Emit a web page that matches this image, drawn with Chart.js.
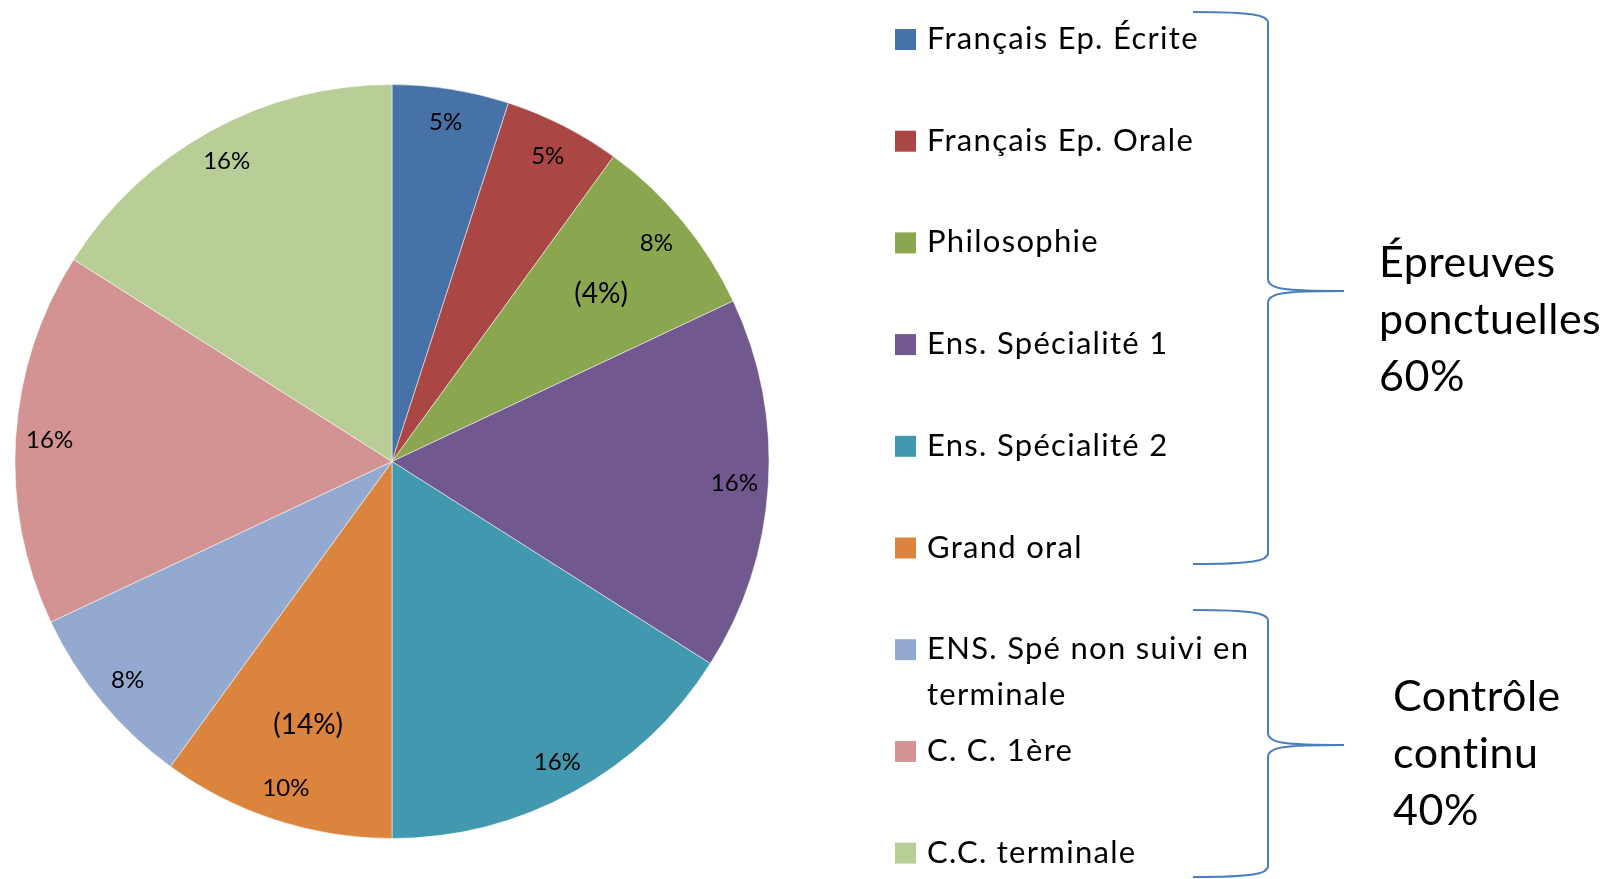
<!DOCTYPE html>
<html lang="fr">
<head>
<meta charset="UTF-8">
<title>Répartition des épreuves</title>
<script src="https://cdn.jsdelivr.net/npm/chart.js"></script>
<style>
  body { margin: 0; background: #fff; }
  canvas { display: block; }
</style>
</head>
<body>
<canvas id="camembert" width="1608" height="879"></canvas>
<script>
// données
var labels = ['Français Ep. Écrite', 'Français Ep. Orale', 'Philosophie', 'Ens. Spécialité 1',
  'Ens. Spécialité 2', 'Grand oral', ['ENS. Spé non suivi en', 'terminale'], 'C. C. 1ère', 'C.C. terminale'];
var values = [5, 5, 8, 16, 16, 10, 8, 16, 16];
var notes = ['', '', '(4%)', '', '', '(14%)', '', '', ''];
var colors = ['#4672A8', '#AA4644', '#8AA64E', '#71598F', '#4299AF', '#DB843E', '#94A9CF', '#D29392', '#B9CD96'];
var groupTitles = [['Épreuves', 'ponctuelles', '60%'], ['Contrôle', 'continu', '40%']];

var FONT = 'Lato, "Open Sans", sans-serif';

// étiquettes dans les parts
var etiquettes = {
  id: 'etiquettes',
  afterDatasetsDraw: function(chart) {
    var ctx = chart.ctx;
    var arcs = chart.getDatasetMeta(0).data;
    ctx.save();
    ctx.fillStyle = '#000';
    ctx.textAlign = 'center';
    ctx.textBaseline = 'middle';
    arcs.forEach(function(arc, i) {
      var p = arc.getProps(['x', 'y', 'startAngle', 'endAngle', 'outerRadius'], true);
      var mid = (p.startAngle + p.endAngle) / 2;
      ctx.font = '24px ' + FONT;
      ctx.fillText(values[i] + '%', p.x + Math.cos(mid) * p.outerRadius * 0.91, p.y + Math.sin(mid) * p.outerRadius * 0.91);
      if (notes[i]) {
        ctx.font = '28px ' + FONT;
        ctx.fillText(notes[i], p.x + Math.cos(mid) * p.outerRadius * 0.72, p.y + Math.sin(mid) * p.outerRadius * 0.72 + 5);
      }
    });
    ctx.restore();
  }
};

function accolade(ctx, xTip, yTop, yBot, xLine, xMid, yMid) {
  ctx.beginPath();
  ctx.moveTo(xTip, yTop);
  ctx.bezierCurveTo(xLine - 15, yTop, xLine, yTop + 3, xLine, yTop + 11);
  ctx.lineTo(xLine, yMid - 12);
  ctx.bezierCurveTo(xLine, yMid - 2, xLine + 15, yMid, xMid, yMid);
  ctx.moveTo(xMid, yMid);
  ctx.bezierCurveTo(xLine + 15, yMid, xLine, yMid + 2, xLine, yMid + 12);
  ctx.lineTo(xLine, yBot - 11);
  ctx.bezierCurveTo(xLine, yBot - 3, xLine - 15, yBot, xTip, yBot);
  ctx.stroke();
}

// légende, accolades et titres de groupe
var legende = {
  id: 'legende',
  afterDraw: function(chart) {
    var ctx = chart.ctx;
    ctx.save();
    ctx.textBaseline = 'middle';
    ctx.textAlign = 'left';
    ctx.font = '31px ' + FONT;
    ctx.letterSpacing = '1.3px';
    labels.forEach(function(lab, i) {
      var y = 39 + i * 101.7;
      ctx.fillStyle = colors[i];
      ctx.fillRect(895, y - 10, 21, 21);
      ctx.fillStyle = '#000';
      var lines = Array.isArray(lab) ? lab : [lab];
      lines.forEach(function(t, j) {
        ctx.fillText(t, 927, y + j * 46);
      });
    });

    ctx.strokeStyle = '#4A7EBB';
    ctx.lineWidth = 2;
    accolade(ctx, 1193, 12, 564, 1268, 1344, 291);
    accolade(ctx, 1193, 610, 877, 1268, 1344, 745);

    ctx.fillStyle = '#000';
    ctx.font = '43px ' + FONT;
    ctx.letterSpacing = '0.5px';
    groupTitles[0].forEach(function(t, j) { ctx.fillText(t, 1379, 263 + j * 57); });
    groupTitles[1].forEach(function(t, j) { ctx.fillText(t, 1393, 697 + j * 57); });
    ctx.restore();
  }
};

var ctx = document.getElementById('camembert').getContext('2d');
var camembert = new Chart(ctx, {
  type: 'pie',
  data: {
    labels: labels,
    datasets: [{
      data: values,
      backgroundColor: colors,
      borderColor: 'rgba(255,255,255,0.5)',
      borderWidth: 1
    }]
  },
  options: {
    responsive: false,
    animation: false,
    layout: { padding: { left: 14, top: 84, right: 838, bottom: 40 } },
    plugins: {
      legend: { display: false },
      tooltip: { enabled: false }
    }
  },
  plugins: [etiquettes, legende]
});
</script>
</body>
</html>
